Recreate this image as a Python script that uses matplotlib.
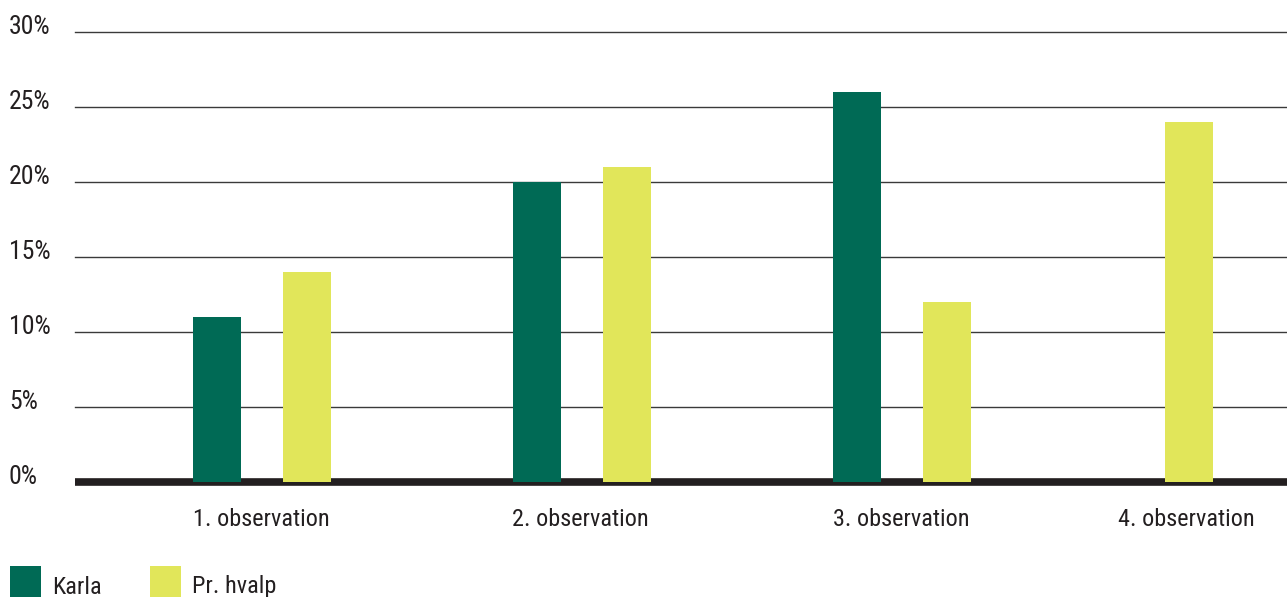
import matplotlib
matplotlib.use("Agg")
import matplotlib.pyplot as plt
from matplotlib.patches import Rectangle
import matplotlib.transforms as mtransforms
from matplotlib import font_manager as fm

names = {f.name for f in fm.fontManager.ttflist}
cands = ['Roboto Condensed', 'DejaVu Sans']
fam = [n for n in cands if n in names] or ['DejaVu Sans']
plt.rcParams['font.family'] = fam
plt.rcParams['font.stretch'] = 'condensed'

categories = ["1. observation", "2. observation", "3. observation", "4. observation"]
karla = [11, 20, 26, 0]
hvalp = [14, 21, 12, 24]
y_ticks = [0, 5, 10, 15, 20, 25, 30]
y_labels = ["0%", "5%", "10%", "15%", "20%", "25%", "30%"]
series_names = ["Karla", "Pr. hvalp"]

C_KARLA = "#006a55"
C_HVALP = "#e1e65a"
TXT = "#231f20"
FS = 17.5
FSY = 18.5

W, H = 1287, 597
fig = plt.figure(figsize=(W / 100, H / 100), dpi=100)
ax = fig.add_axes([75 / W, (H - 482) / H, 1 - 75 / W, (482 - 32) / H])

centers = [0, 1, 2, 2.756]
label_pos = [0, 0.997, 2, 2.89]
off_k, off_h, bw = -0.1375, 0.144, 0.15

ax.set_xlim(-0.581, 3.206)
ax.set_ylim(0, 30)

for y in y_ticks[1:]:
    ax.axhline(y, color="#3a3a3a", lw=1.0, zorder=1, clip_on=False)
ax.axhline(0, color=TXT, lw=5.5, zorder=2, clip_on=False, solid_capstyle="butt")

ax.bar([c + off_k for c in centers], karla, width=bw, color=C_KARLA, zorder=3)
ax.bar([c + off_h for c in centers], hvalp, width=bw, color=C_HVALP, zorder=3)

for s in ax.spines.values():
    s.set_visible(False)
ax.set_yticks([])
ax.set_xticks(label_pos)
ax.set_xticklabels(categories, fontsize=FS, color=TXT)
ax.tick_params(axis="x", length=0, pad=19)

trans = mtransforms.blended_transform_factory(fig.transFigure, ax.transData)
off = mtransforms.ScaledTranslation(0, 5 / 100, fig.dpi_scale_trans)
for y, lab in zip(y_ticks, y_labels):
    fig.text(9 / W, y, lab, transform=trans + off, ha="left", va="center",
             fontsize=FSY, color=TXT)

for (x0, name, col) in [(10, series_names[0], C_KARLA), (150, series_names[1], C_HVALP)]:
    fig.add_artist(Rectangle((x0 / W, 0), 31 / W, 31 / H, transform=fig.transFigure,
                             color=col, lw=0))
    fig.text((x0 + 42) / W, 10 / H, name, ha="left", va="center", fontsize=FS, color=TXT)

fig.savefig("out.png", dpi=100, facecolor="white")
